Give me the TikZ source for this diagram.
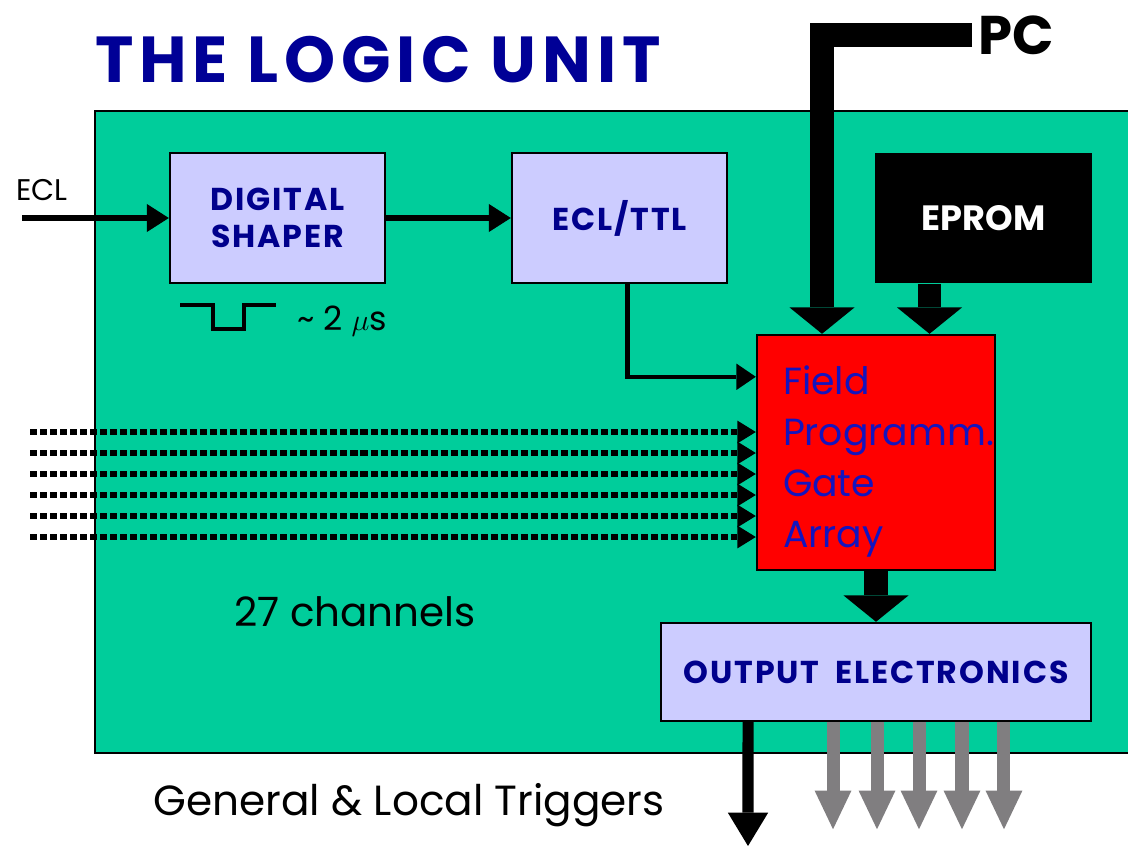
\documentclass[tikz,border=0pt]{standalone}
\usepackage{fontspec}
\setmainfont{Poppins}
\usetikzlibrary{arrows.meta, positioning, calc}

\definecolor{boardgreen}{RGB}{0,205,155}
\definecolor{boxblue}{RGB}{204,204,255}
\definecolor{labelnavy}{RGB}{0,0,140}
\definecolor{titlenavy}{RGB}{0,0,150}
\definecolor{fpgablue}{RGB}{20,20,190}
\definecolor{outgray}{RGB}{128,126,128}

\tikzset{
  unitbox/.style = {draw=black, line width=1.4pt, fill=boxblue, text=labelnavy,
    minimum width=4.3cm, minimum height=2.6cm, align=center, inner sep=0pt,
    font=\fontsize{18}{21}\selectfont\bfseries\addfontfeatures{LetterSpace=6}},
  fatarrow/.style = {line width=13.5pt, -{Triangle[length=15pt, width=37pt, line width=0pt]}},
  sigarrow/.style = {line width=3.4pt, -{Triangle[length=12.5pt, width=16pt, line width=0pt]}},
  chanline/.style = {line width=3.4pt, dash pattern=on 4pt off 1.7pt,
    -{Triangle[length=10.5pt, width=13pt, line width=0pt]}},
  trigarrow/.style = {line width=6.3pt, -{Triangle[length=19pt, width=23pt, line width=0pt]}},
  grayarrow/.style = {draw=outgray, line width=7.4pt,
    -{Triangle[length=22pt, width=21pt, line width=0pt]}},
}

\begin{document}
\begin{tikzpicture}[x=0.02cm, y=-0.02cm]
  \useasboundingbox (0,0) rectangle (1128,848);

  % board
  \fill[boardgreen] (95,111) rectangle (1140,753);
  \draw[line width=1.2pt] (1140,111) -- (95,111) -- (95,753) -- (1140,753);

  \node[font=\fontsize{37}{40}\selectfont\bfseries\addfontfeatures{LetterSpace=9}, text=titlenavy]
    (title) at (378,60) {THE LOGIC UNIT};
  \node[font=\fontsize{31}{36}\selectfont\bfseries] (pc) at (1016,35) {PC};
  \node[font=\fontsize{17}{20}\selectfont] (ecllabel) at (42,190) {ECL};
  \coordinate (eclin) at (22,218);

  \node[unitbox] (shaper) at (277.5,218) {DIGITAL\\SHAPER};
  \node[unitbox] (ecltl) at (619.5,218) {ECL/TTL};
  \node[unitbox, fill=black, draw=none, text=white, minimum width=4.34cm,
    font=\fontsize{20}{24}\selectfont\bfseries] (eprom) at (983.5,218) {EPROM};
  \node[draw=black, line width=1.4pt, fill=red, text=fpgablue, minimum width=4.76cm, minimum height=4.7cm,
    inner xsep=0pt, text width=3.72cm, align=left, font=\fontsize{21.5}{29}\selectfont]
    (fpga) at (876,452.5) {\rule{0pt}{27pt}Field\\Programm.\\Gate\\Array};
  \node[unitbox, minimum width=8.6cm, minimum height=1.96cm] (output) at (876,672)
    {OUTPUT\hspace{4pt} ELECTRONICS};

  % pulse shape
  \draw[line width=2.3pt] (180,305) -- (213,305) -- (213,329) -- (244,329) -- (244,305) -- (276,305);
  \node[font=\fontsize{19}{22}\selectfont] (pulselabel) at (342,321) {\textasciitilde{} 2 $\mu$s};

  \node[font=\fontsize{23}{26}\selectfont] (channels) at (355,612) {27 channels};
  \node[font=\fontsize{24}{27}\selectfont] (triggers) at (409,805) {General \& Local Triggers};
  \coordinate (trigout) at (748,846);

  % signal path
  \draw[sigarrow] (eclin) -- (eclin -| shaper.west);
  \draw[sigarrow] (shaper) -- (ecltl);
  \draw[line width=2.3pt, -{Triangle[length=11pt, width=15pt, line width=0pt]}]
    (ecltl.south) ++(8,0) |- ($(fpga.north west)+(0,43)$);

  \foreach \y [count=\i] in {432,453,474,495,516,537} {
    \coordinate (ch\i) at (30,\y);
    \draw[chanline] (ch\i) -- (ch\i -| fpga.west);
  }

  \draw[fatarrow, line join=miter] (pc.west) -| ([xshift=-1.08cm]fpga.north);
  \draw[fatarrow] ([xshift=-1.08cm]eprom.south) -- ([xshift=-1.08cm]eprom.south |- fpga.north);
  \draw[fatarrow] (fpga) -- (output);

  \draw[trigarrow] ([xshift=-2.56cm]output.south) -- (trigout);
  \foreach \dx in {-0.86,0.02,0.86,1.72,2.56} {
    \draw[grayarrow] ([xshift=\dx cm]output.south) -- ++(0,107);
  }
\end{tikzpicture}
\end{document}
